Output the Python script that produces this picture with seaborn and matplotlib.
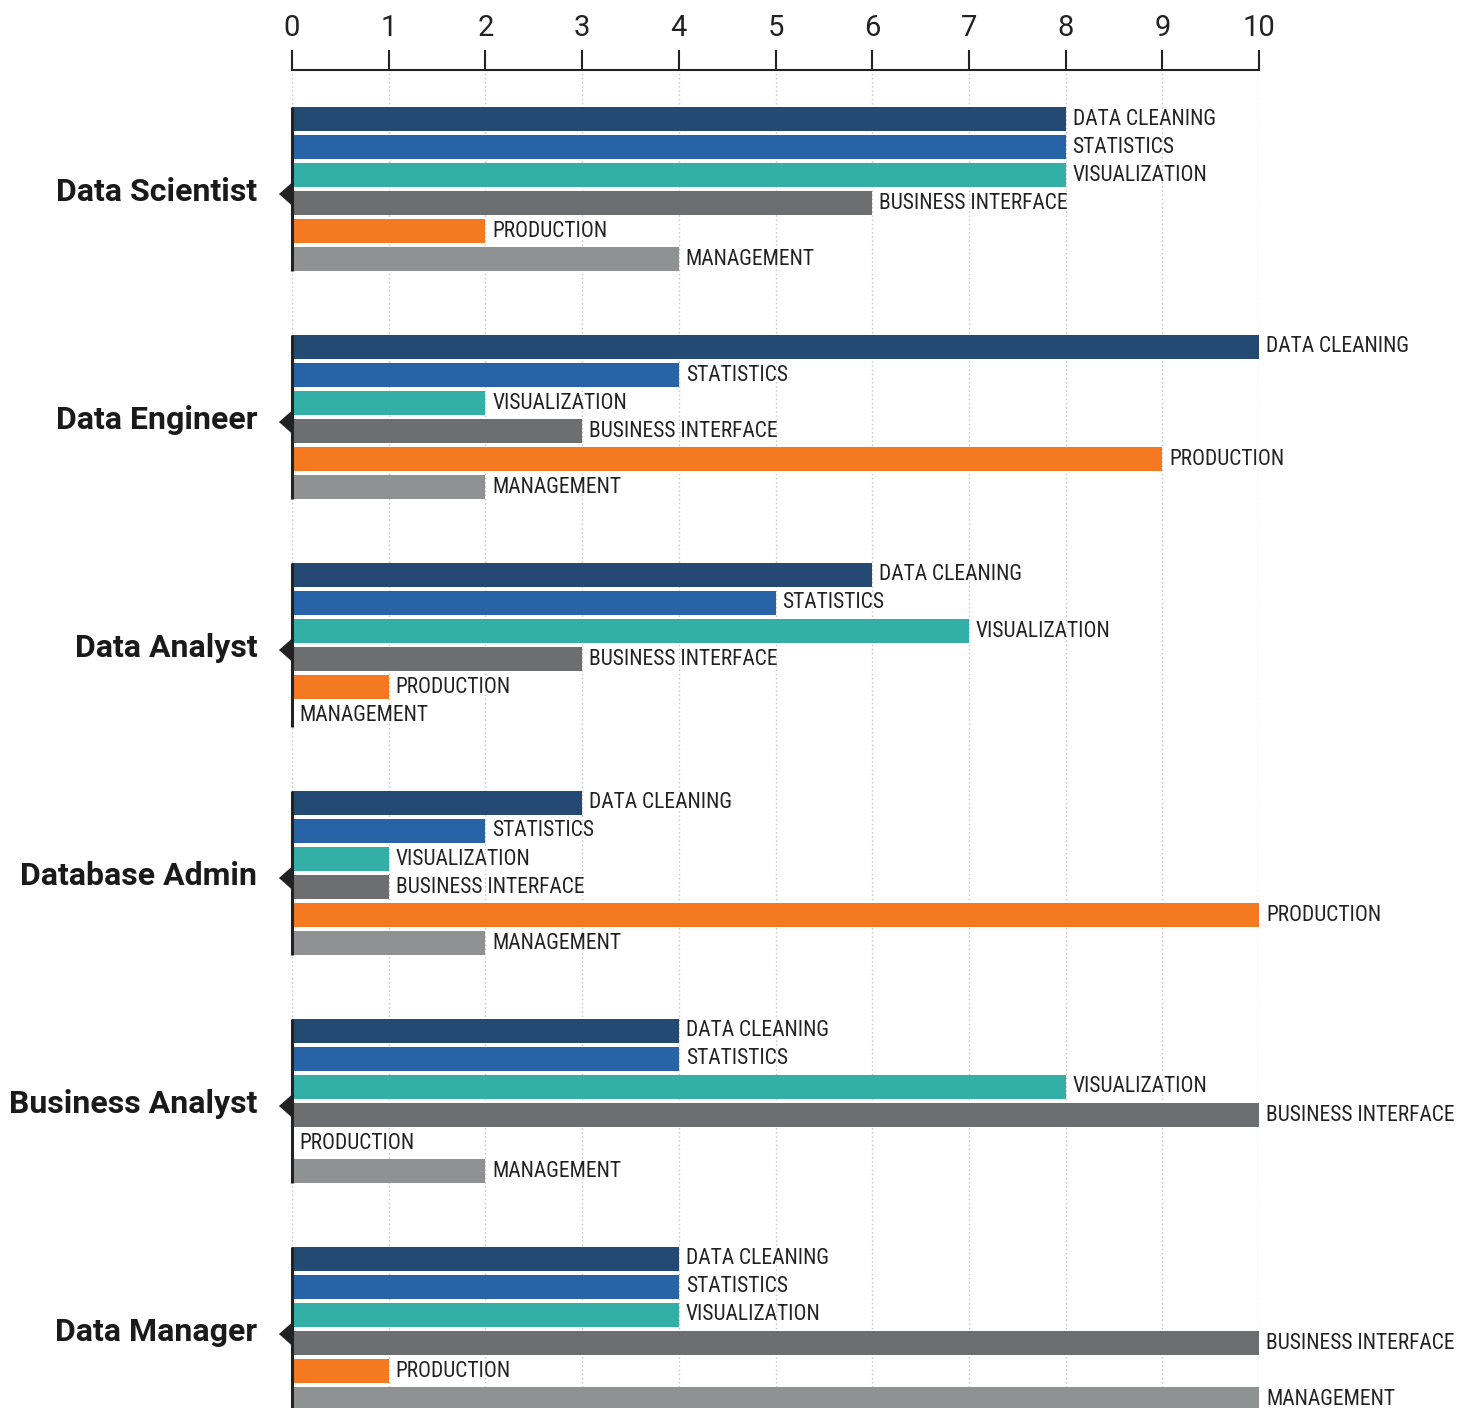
import matplotlib
matplotlib.use("Agg")
import matplotlib.pyplot as plt
import seaborn as sns
import pandas as pd

roles = ["Data Scientist", "Data Engineer", "Data Analyst",
         "Database Admin", "Business Analyst", "Data Manager"]
skills = ["DATA CLEANING", "STATISTICS", "VISUALIZATION",
          "BUSINESS INTERFACE", "PRODUCTION", "MANAGEMENT"]
data_cleaning = [8, 10, 6, 3, 4, 4]
statistics = [8, 4, 5, 2, 4, 4]
visualization = [8, 2, 7, 1, 8, 4]
business_interface = [6, 3, 3, 1, 10, 10]
production = [2, 9, 1, 10, 0, 1]
management = [4, 2, 0, 2, 2, 10]
colors = ["#244a73", "#2763a6", "#33afa8", "#6d6e70", "#f47920", "#8f9293"]
xticks = list(range(0, 11))

series = [data_cleaning, statistics, visualization,
          business_interface, production, management]
rows = []
for sk, vals in zip(skills, series):
    for r, v in zip(roles, vals):
        rows.append({"role": r, "skill": sk, "value": v})
df = pd.DataFrame(rows)

sns.set_theme(style="white")
plt.rcParams['font.family'] = ['Roboto', 'DejaVu Sans']

W, H = 1475, 1408
fig = plt.figure(figsize=(W / 100, H / 100), dpi=100)
ax = fig.add_axes([292 / W, 0, (1259 - 292) / W, (H - 70) / H])

sns.barplot(data=df, x="value", y="role", hue="skill", order=roles,
            hue_order=skills, palette=colors, orient="h", width=0.737,
            gap=0.143, dodge=True, ax=ax, legend=False, saturation=1,
            errorbar=None, linewidth=0)

ax.set_xlim(0, 10)
ax.set_ylim(5.3465, -0.522)
ax.set_xlabel("")
ax.set_ylabel("")
ax.xaxis.tick_top()
ax.set_xticks(xticks)
ax.set_xticklabels([str(t) for t in xticks])

for s in ["left", "right", "bottom"]:
    ax.spines[s].set_visible(False)
ax.spines["top"].set_visible(True)
ax.spines["top"].set_linewidth(1.5)
ax.spines["top"].set_color("#222222")

ax.tick_params(axis="x", which="major", top=True, bottom=False,
               direction="out", length=14.4, width=1.5, color="#222222",
               pad=6, labelsize=21, labelcolor="#222222")
ax.tick_params(axis="y", length=0, pad=25)
for lab in ax.get_yticklabels():
    lab.set_fontweight("bold")
    lab.set_fontsize(23)
    lab.set_color("#1a1a1a")

ax.xaxis.grid(True, color="#c4c4c4", linestyle=(0, (1, 2)), linewidth=1)
ax.yaxis.grid(False)
ax.set_axisbelow(True)

for cont, sk in zip(ax.containers, skills):
    anns = ax.bar_label(cont, labels=[sk] * len(cont), padding=5,
                        fontsize=15.5, color="#222222",
                        family=["Roboto Condensed", "Roboto", "DejaVu Sans"])
    for a in anns:
        a.set_annotation_clip(False)

tri = [(-13, 0), (0, 11.5), (0, -11.5)]
for i in range(len(roles)):
    bars = [cont[i] for cont in ax.containers]
    top = min(b.get_y() for b in bars)
    bottom = max(b.get_y() + b.get_height() for b in bars)
    ax.plot([0, 0], [top, bottom], color="#222222", lw=2.2,
            solid_capstyle="butt", clip_on=False, zorder=5)
    ax.plot([0], [i + 0.02], marker=tri, ms=18.7, color="#222222",
            linestyle="none", clip_on=False, zorder=5)

fig.savefig("out.png", dpi=100)
